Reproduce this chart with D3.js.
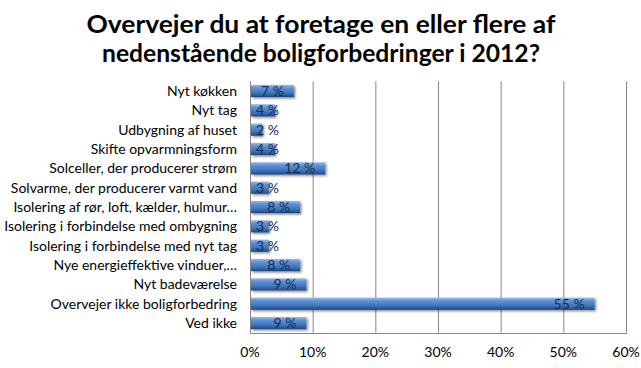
<!DOCTYPE html>
<html><head><meta charset="utf-8">
<script src="https://cdn.jsdelivr.net/npm/d3@7"></script>
<style>body{margin:0;background:#fff}svg{display:block}</style>
</head><body>
<svg id="c" width="641" height="368"></svg>
<script>
const categories = ["Nyt køkken","Nyt tag","Udbygning af huset","Skifte opvarmningsform","Solceller, der producerer strøm","Solvarme, der producerer varmt vand","Isolering af rør, loft, kælder, hulmur…","Isolering i forbindelse med ombygning","Isolering i forbindelse med nyt tag","Nye energieffektive vinduer,…","Nyt badeværelse","Overvejer ikke boligforbedring","Ved ikke"];
const values = [7,4,2,4,12,3,8,3,3,8,9,55,9];
const ticks = [0,10,20,30,40,50,60];
const titleLines = ["Overvejer du at foretage en eller flere af","nedenstående boligforbedringer i 2012?"];

const svg = d3.select("#c");
const L=250,R=626,T=81.3,B=332.7;
const x = d3.scaleLinear().domain([0,60]).range([L,R]);
const y = d3.scaleBand().domain(categories).range([T,B]).paddingInner(0.37).paddingOuter(0.185);

const defs = svg.append("defs");
const g = defs.append("linearGradient").attr("id","bg").attr("x1",0).attr("y1",0).attr("x2",0).attr("y2",1);
[[0,"#9dbdea"],[0.25,"#5f92d6"],[0.6,"#4479c2"],[0.85,"#2f5e9f"],[1,"#1f3f6e"]].forEach(([o,c])=>g.append("stop").attr("offset",o).attr("stop-color",c));
const f = defs.append("filter").attr("id","sh").attr("x","-10%").attr("y","-30%").attr("width","130%").attr("height","190%");
f.append("feDropShadow").attr("dx",1.5).attr("dy",1.5).attr("stdDeviation",1).attr("flood-color","#000").attr("flood-opacity",0.45);

// title
svg.append("g").selectAll("text").data(titleLines).join("text")
  .attr("x",321).attr("y",(d,i)=>33+i*29).attr("text-anchor","middle")
  .attr("font-family","Lato, 'Open Sans', sans-serif").attr("font-weight","bold").attr("font-size",25)
  .attr("fill","#000")
  .attr("textLength",(d,i)=>i===0?469:438).attr("lengthAdjust","spacingAndGlyphs")
  .text(d=>d);

// gridlines
svg.append("g").selectAll("line").data(ticks.slice(1)).join("line")
  .attr("x1",d=>x(d)+0.5).attr("x2",d=>x(d)+0.5).attr("y1",T).attr("y2",B)
  .attr("stroke","#878787").attr("stroke-width",1);
svg.append("line").attr("x1",L).attr("x2",R+1).attr("y1",Math.round(B)+0.5).attr("y2",Math.round(B)+0.5).attr("stroke","#878787");
svg.append("line").attr("x1",L+0.5).attr("x2",L+0.5).attr("y1",T).attr("y2",B+1).attr("stroke","#878787");

// x tick labels
svg.append("g").selectAll("text").data(ticks).join("text")
  .attr("x",d=>x(d)).attr("y",357).attr("text-anchor","middle")
  .attr("font-family","Lato, sans-serif").attr("font-size",14).attr("fill","#000")
  .text(d=>d+"%");

// category labels
svg.append("g").selectAll("text").data(categories).join("text")
  .attr("x",L-13).attr("y",d=>y(d)+y.bandwidth()/2+5).attr("text-anchor","end")
  .attr("font-family","Lato, sans-serif").attr("font-size",14).attr("fill","#000")
  .text(d=>d);

// bars
svg.append("g").selectAll("rect").data(values).join("rect")
  .attr("x",L+1).attr("y",(d,i)=>y(categories[i]))
  .attr("width",d=>x(d)-L-1).attr("height",y.bandwidth())
  .attr("fill","url(#bg)").attr("filter","url(#sh)");

// value labels
svg.append("g").selectAll("text").data(values).join("text")
  .attr("x",d=>Math.max(x(d)-10,279)).attr("y",(d,i)=>y(categories[i])+y.bandwidth()/2+5)
  .attr("text-anchor","end")
  .attr("font-family","Lato, sans-serif").attr("font-size",14).attr("fill","#1a2d4f")
  .text(d=>d+" %");
</script>
</body></html>
